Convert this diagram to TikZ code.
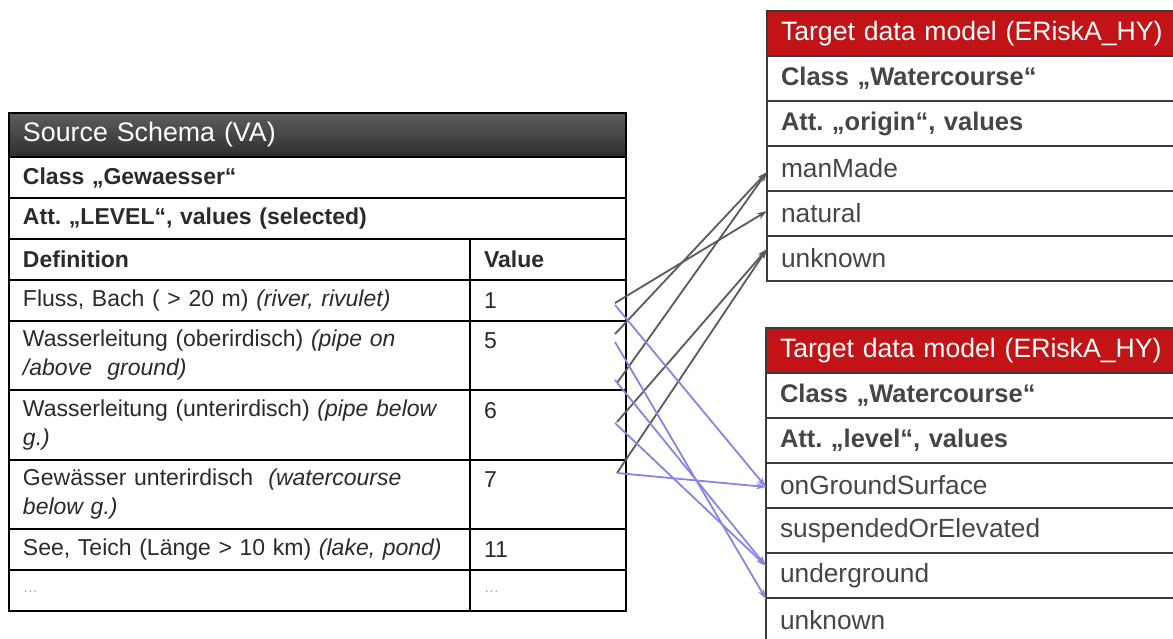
\documentclass[tikz,border=0pt]{standalone}
\usepackage{fontspec}
\setmainfont{Liberation Sans}
\usetikzlibrary{positioning,arrows.meta}
\frenchspacing

\definecolor{headtop}{HTML}{5E5E5E}
\definecolor{headbot}{HTML}{2E2E2E}
\definecolor{targetred}{HTML}{C21417}
\definecolor{srctext}{HTML}{2A2A2A}
\definecolor{tgttext}{HTML}{454545}
\definecolor{tgtline}{HTML}{3A3A3A}
\definecolor{mapgray}{HTML}{5A5A5A}
\definecolor{mapblue}{HTML}{8585E6}

\begin{document}
\begin{tikzpicture}[x=1pt, y=-1pt,
  >={Stealth[length=10pt,width=6.5pt]},
  every node/.style={outer sep=0pt, inner ysep=0pt, inner xsep=14pt},
  srccell/.style={draw=black, line width=1.4pt, minimum height=41pt,
    text width=#1, align=left, text=srctext,
    font=\fontsize{23}{29}\selectfont},
  srchead/.style={srccell=#1, minimum height=44pt, top color=headtop,
    bottom color=headbot, text=white, font=\fontsize{26.8}{30}\selectfont},
  tgtcell/.style={draw=tgtline, line width=1.8pt, minimum height=45pt,
    text width=392pt, align=left, text=tgttext,
    font=\fontsize{26.3}{30}\selectfont},
  tgthead/.style={tgtcell, fill=targetred, text=white,
    font=\fontsize{26.6}{30}\selectfont},
  graymap/.style={->, draw=mapgray, line width=1.8pt},
  bluemap/.style={->, draw=mapblue, line width=1.8pt}]

  \path[use as bounding box, clip] (0,0) rectangle (1173,639);

  % source schema
  \node[srchead=589pt, anchor=north west] (sh) at (9,113) {Source Schema (VA)};
  \node[srccell=589pt, below=0pt of sh, font=\fontsize{23}{29}\selectfont\bfseries] (sc) {Class „Gewaesser“};
  \node[srccell=589pt, below=0pt of sc, font=\fontsize{23}{29}\selectfont\bfseries] (sa) {Att. „LEVEL“, values (selected)};
  \node[srccell=433pt, below=0pt of sa.south west, anchor=north west, font=\fontsize{23}{29}\selectfont\bfseries] (dh) {Definition};
  \node[srccell=128pt, right=0pt of dh, font=\fontsize{23}{29}\selectfont\bfseries] (vh) {Value};

  \node[srccell=433pt, below=0pt of dh] (d1) {Fluss, Bach ( > 20 m) \textit{(river, rivulet)}};
  \node[srccell=128pt, right=0pt of d1] (v1) {1};
  \node[srccell=433pt, minimum height=69pt, below=0pt of d1] (d2) {Wasserleitung (oberirdisch) \textit{(pipe on\\/above\ \ ground)}};
  \node[srccell=128pt, minimum height=69pt, right=0pt of d2] (v2) {5\\~};
  \node[srccell=433pt, minimum height=70pt, below=0pt of d2] (d3) {Wasserleitung (unterirdisch) \textit{(pipe below\\g.)}};
  \node[srccell=128pt, minimum height=70pt, right=0pt of d3] (v3) {6\\~};
  \node[srccell=433pt, minimum height=69pt, below=0pt of d3] (d4) {Gewässer unterirdisch\ \ \textit{(watercourse\\below g.)}};
  \node[srccell=128pt, minimum height=69pt, right=0pt of d4] (v4) {7\\~};
  \node[srccell=433pt, below=0pt of d4] (d5) {See, Teich (Länge > 10 km) \textit{(lake, pond)}};
  \node[srccell=128pt, right=0pt of d5] (v5) {11};
  \node[srccell=433pt, below=0pt of d5, text=gray!70, font=\fontsize{15}{20}\selectfont] (d6) {\raisebox{-4pt}{…}};
  \node[srccell=128pt, right=0pt of d6, text=gray!70, font=\fontsize{15}{20}\selectfont] (v6) {\raisebox{-4pt}{…}};

  % target: origin
  \node[tgthead, anchor=north west] (th1) at (767,11) {Target data model (ERiskA\_HY)};
  \node[tgtcell, below=0pt of th1, font=\fontsize{25.5}{30}\selectfont\bfseries] (tc1) {Class „Watercourse“};
  \node[tgtcell, below=0pt of tc1, font=\fontsize{25.5}{30}\selectfont\bfseries] (ta1) {Att. „origin“, values};
  \node[tgtcell, below=0pt of ta1] (man) {manMade};
  \node[tgtcell, below=0pt of man] (nat) {natural};
  \node[tgtcell, below=0pt of nat] (unk1) {unknown};

  % target: level
  \node[tgthead, anchor=north west] (th2) at (766,328) {Target data model (ERiskA\_HY)};
  \node[tgtcell, below=0pt of th2, font=\fontsize{25.5}{30}\selectfont\bfseries] (tc2) {Class „Watercourse“};
  \node[tgtcell, below=0pt of tc2, font=\fontsize{25.5}{30}\selectfont\bfseries] (ta2) {Att. „level“, values};
  \node[tgtcell, below=0pt of ta2] (ongr) {onGroundSurface};
  \node[tgtcell, below=0pt of ongr] (susp) {suspendedOrElevated};
  \node[tgtcell, below=0pt of susp] (ugr) {underground};
  \node[tgtcell, below=0pt of ugr] (unk2) {unknown};

  % mapping ends
  \coordinate (g1) at (615,303);
  \coordinate (g2) at (615,334);
  \coordinate (g3) at (617,383);
  \coordinate (g4) at (617,422);
  \coordinate (g5) at (617,473);
  \coordinate (b1) at (615,305);
  \coordinate (b2) at (615,342);
  \coordinate (b3) at (615,380);
  \coordinate (b4) at (615,423);

  \draw[graymap] (g1) -- ([yshift=2.5pt]nat.west);
  \draw[graymap] (g2) -- ([yshift=-3.5pt]man.west);
  \draw[graymap] (g3) -- ([yshift=-3.5pt]man.west);
  \draw[graymap] (g4) -- ([yshift=9.5pt]unk1.west);
  \draw[graymap] (g5) -- ([yshift=9.5pt]unk1.west);

  \draw[bluemap] (b1) -- ([yshift=-1.5pt]ongr.west);
  \draw[bluemap] (g5) -- ([yshift=-1.5pt]ongr.west);
  \draw[bluemap] (b2) -- ([yshift=-1pt]unk2.north west);
  \draw[bluemap] (b3) -- ([yshift=9.5pt]ugr.west);
  \draw[bluemap] (b4) -- ([yshift=9.5pt]ugr.west);
\end{tikzpicture}
\end{document}
